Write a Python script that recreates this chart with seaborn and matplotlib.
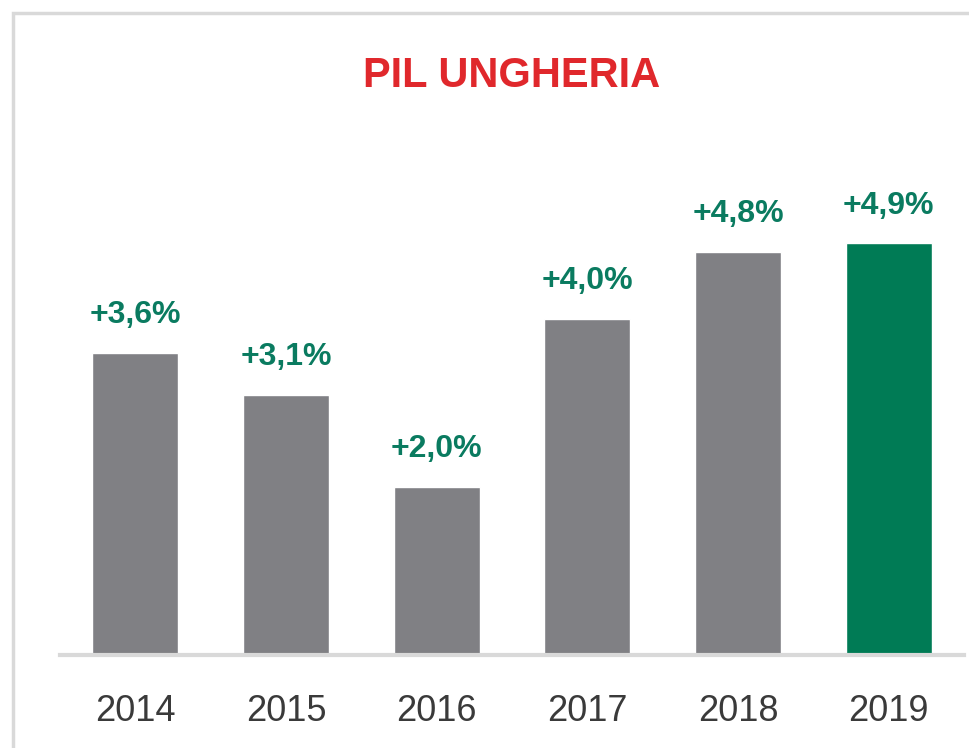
import pandas as pd
import matplotlib.pyplot as plt
import seaborn as sns
from matplotlib.patches import Rectangle

years = ['2014', '2015', '2016', '2017', '2018', '2019']
gdp_growth = [3.6, 3.1, 2.0, 4.0, 4.8, 4.9]
labels = ['+3,6%', '+3,1%', '+2,0%', '+4,0%', '+4,8%', '+4,9%']
highlight = ['past', 'past', 'past', 'past', 'past', 'latest']

df = pd.DataFrame({'year': years, 'gdp': gdp_growth, 'kind': highlight})

sns.set_style('white')
plt.rcParams['font.family'] = ['Liberation Sans', 'DejaVu Sans']

fig = plt.figure(figsize=(9.69, 7.48), dpi=100)
ax = fig.add_axes([60 / 969, 1 - 655 / 748, 904 / 969, 504 / 748])

sns.barplot(data=df, x='year', y='gdp', hue='kind',
            palette={'past': '#808084', 'latest': '#007b55'},
            width=0.57, dodge=False, legend=False, saturation=1, ax=ax)

ax.set_xlim(-0.5, 5.5)
ax.set_ylim(0, 6)
for i, (v, lab) in enumerate(zip(gdp_growth, labels)):
    ax.annotate(lab, (i, v), xytext=(0, 27), textcoords='offset points',
                ha='center', va='center', fontsize=23, fontweight='bold',
                color='#0a7b60')

ax.set_xlabel('')
ax.set_ylabel('')
ax.set_yticks([])
ax.tick_params(axis='x', length=0, labelsize=26, labelcolor='#3a3a3a', pad=28)
for s in ['left', 'right', 'top']:
    ax.spines[s].set_visible(False)
ax.spines['bottom'].set_color('#d9d9d9')
ax.spines['bottom'].set_linewidth(3)

fig.text(512 / 969, 1 - 76 / 748, 'PIL UNGHERIA', ha='center', va='center',
         fontsize=30, fontweight='bold', color='#e0282c')

# light grey frame, cut off on the right and bottom
fig.patches.append(Rectangle((12.5 / 969, -0.1), 1.2, 1 - 13.5 / 748 + 0.1,
                             transform=fig.transFigure, fill=False,
                             edgecolor='#d9d9d9', linewidth=2.5))

fig.savefig('out.png', dpi=100)
